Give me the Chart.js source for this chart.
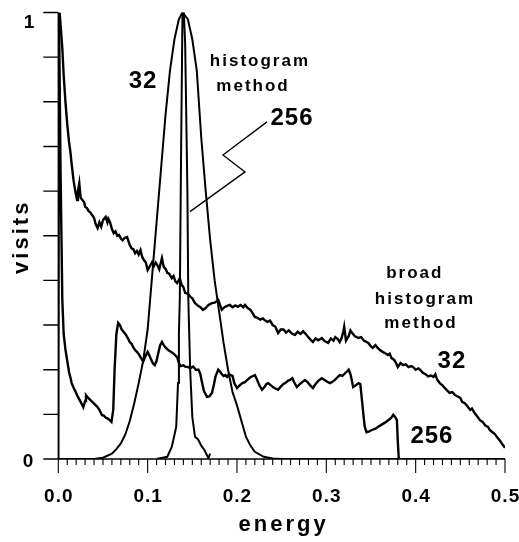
<!DOCTYPE html>
<html>
<head>
<meta charset="utf-8">
<script src="https://cdn.jsdelivr.net/npm/chart.js@4.4.0/dist/chart.umd.min.js"></script>
<style>
  html, body { margin: 0; padding: 0; background: #fff; }
  #chart { display: block; }
</style>
</head>
<body>
<canvas id="chart" width="519" height="542"></canvas>
<script>
// histogram method, 32 (wide peak)
const histo32E = [0, 0.04, 0.05, 0.06, 0.065, 0.07, 0.075, 0.08, 0.085, 0.09, 0.095, 0.1, 0.105, 0.11, 0.115, 0.12, 0.125, 0.13, 0.135, 0.139,
  0.145, 0.15, 0.155, 0.16, 0.165, 0.17, 0.175, 0.18, 0.185, 0.19, 0.195, 0.2, 0.205, 0.21, 0.215, 0.22, 0.23, 0.24, 0.25, 0.5];
const histo32V = [0, 0, 0.003, 0.012, 0.022, 0.035, 0.055, 0.085, 0.125, 0.17, 0.22, 0.29, 0.41, 0.53, 0.65, 0.77, 0.87, 0.94, 0.985, 1.0,
  0.985, 0.94, 0.87, 0.72, 0.6, 0.49, 0.4, 0.33, 0.26, 0.2, 0.15, 0.12, 0.085, 0.05, 0.03, 0.016, 0.005, 0.001, 0, 0];

// histogram method, 256 (narrow peak)
const histo256E = [0.11, 0.122, 0.127, 0.132, 0.134, 0.135, 0.136, 0.1375, 0.139, 0.1405, 0.142, 0.1445, 0.1455, 0.1476, 0.15, 0.153,
  0.156, 0.158, 0.16, 0.163, 0.166, 0.168, 0.17];
const histo256V = [0, 0.005, 0.027, 0.072, 0.17, 0.28, 0.36, 0.7, 1.0, 1.0, 0.93, 0.6, 0.36, 0.2, 0.094, 0.05,
  0.045, 0.038, 0.03, 0.022, 0.01, 0.002, 0.012];

// broad histogram method, 32
const broad32E = [0.0015, 0.003, 0.0045, 0.006, 0.008, 0.010, 0.012, 0.0134, 0.015, 0.017, 0.019, 0.021, 0.022, 0.0235, 0.025, 0.027,
  0.029, 0.030, 0.032, 0.034, 0.036, 0.038, 0.040, 0.042, 0.044, 0.046, 0.048, 0.050, 0.053, 0.055, 0.056, 0.058, 0.060, 0.062,
  0.064, 0.066, 0.068, 0.070, 0.072, 0.074, 0.077, 0.079, 0.080, 0.082, 0.084, 0.086, 0.088, 0.090, 0.092, 0.094, 0.096, 0.098,
  0.100, 0.102, 0.105, 0.107, 0.109, 0.111, 0.113, 0.116, 0.118, 0.120, 0.122, 0.124, 0.127, 0.129, 0.131, 0.133, 0.136, 0.138,
  0.140, 0.142, 0.145, 0.148, 0.150, 0.153, 0.156, 0.159, 0.162, 0.165, 0.168, 0.172, 0.175, 0.179, 0.181, 0.183, 0.186, 0.189,
  0.192, 0.195, 0.198, 0.201, 0.204, 0.207, 0.209, 0.212, 0.215, 0.218, 0.220, 0.223, 0.226, 0.229, 0.231, 0.234, 0.237, 0.240,
  0.243, 0.246, 0.249, 0.252, 0.255, 0.258, 0.262, 0.265, 0.268, 0.271, 0.274, 0.276, 0.279, 0.282, 0.285, 0.288, 0.291, 0.295,
  0.298, 0.302, 0.305, 0.308, 0.310, 0.313, 0.315, 0.317, 0.319, 0.320, 0.322, 0.325, 0.327, 0.329, 0.332, 0.336, 0.339, 0.342,
  0.345, 0.347, 0.350, 0.352, 0.355, 0.357, 0.360, 0.363, 0.366, 0.369, 0.371, 0.373, 0.376, 0.378, 0.380, 0.383, 0.386, 0.389,
  0.392, 0.395, 0.397, 0.400, 0.403, 0.405, 0.408, 0.411, 0.414, 0.417, 0.420, 0.422, 0.424, 0.427, 0.430, 0.433, 0.436, 0.438,
  0.441, 0.444, 0.447, 0.450, 0.452, 0.455, 0.458, 0.461, 0.463, 0.466, 0.469, 0.472, 0.475, 0.478, 0.481, 0.483, 0.486, 0.489,
  0.491, 0.494, 0.497, 0.500];
const broad32V = [1.0, 0.96, 0.92, 0.86, 0.80, 0.75, 0.71, 0.69, 0.66, 0.625, 0.60, 0.58, 0.60, 0.618, 0.585, 0.58,
  0.575, 0.565, 0.562, 0.555, 0.552, 0.546, 0.54, 0.525, 0.517, 0.53, 0.52, 0.535, 0.542, 0.53, 0.538, 0.53, 0.515, 0.506,
  0.51, 0.50, 0.502, 0.494, 0.49, 0.495, 0.497, 0.485, 0.479, 0.472, 0.47, 0.461, 0.466, 0.458, 0.468, 0.452, 0.445, 0.44,
  0.423, 0.43, 0.441, 0.432, 0.44, 0.434, 0.425, 0.45, 0.43, 0.426, 0.417, 0.415, 0.405, 0.41, 0.398, 0.394, 0.405, 0.39,
  0.385, 0.372, 0.37, 0.363, 0.36, 0.349, 0.344, 0.34, 0.334, 0.338, 0.345, 0.349, 0.35, 0.356, 0.345, 0.334, 0.34, 0.343,
  0.345, 0.34, 0.344, 0.341, 0.345, 0.34, 0.345, 0.338, 0.334, 0.325, 0.318, 0.316, 0.312, 0.315, 0.311, 0.307, 0.31, 0.3,
  0.296, 0.282, 0.29, 0.29, 0.283, 0.288, 0.28, 0.278, 0.285, 0.28, 0.286, 0.282, 0.275, 0.268, 0.262, 0.27, 0.266, 0.271,
  0.264, 0.26, 0.27, 0.265, 0.273, 0.268, 0.262, 0.27, 0.285, 0.296, 0.265, 0.275, 0.288, 0.282, 0.275, 0.271, 0.273, 0.265,
  0.262, 0.26, 0.252, 0.249, 0.255, 0.25, 0.244, 0.24, 0.237, 0.233, 0.236, 0.226, 0.222, 0.215, 0.206, 0.215, 0.21, 0.212,
  0.206, 0.208, 0.206, 0.2, 0.203, 0.2, 0.193, 0.19, 0.185, 0.187, 0.184, 0.19, 0.178, 0.17, 0.165, 0.158, 0.152, 0.148,
  0.15, 0.143, 0.14, 0.137, 0.128, 0.125, 0.118, 0.11, 0.113, 0.103, 0.095, 0.087, 0.083, 0.075, 0.072, 0.065, 0.06, 0.055,
  0.049, 0.042, 0.033, 0.025];

// broad histogram method, 256
const broad256E = [0, 0.0008, 0.0025, 0.0045, 0.006, 0.008, 0.010, 0.012, 0.0134, 0.015, 0.017, 0.019, 0.022, 0.025, 0.028, 0.030,
  0.031, 0.033, 0.036, 0.038, 0.040, 0.042, 0.044, 0.046, 0.049, 0.051, 0.053, 0.055, 0.057, 0.0595, 0.0615, 0.063, 0.065, 0.067,
  0.069, 0.071, 0.073, 0.075, 0.078, 0.080, 0.082, 0.084, 0.086, 0.088, 0.090, 0.092, 0.095, 0.097, 0.100, 0.102, 0.104, 0.106,
  0.108, 0.110, 0.112, 0.114, 0.116, 0.118, 0.120, 0.123, 0.126, 0.129, 0.131, 0.133, 0.135, 0.137, 0.140, 0.142, 0.145, 0.148,
  0.151, 0.154, 0.157, 0.159, 0.161, 0.163, 0.1665, 0.169, 0.172, 0.174, 0.176, 0.179, 0.181, 0.183, 0.185, 0.187, 0.189, 0.191,
  0.193, 0.195, 0.197, 0.200, 0.203, 0.206, 0.209, 0.212, 0.215, 0.218, 0.220, 0.222, 0.225, 0.228, 0.231, 0.233, 0.235, 0.238,
  0.241, 0.243, 0.246, 0.249, 0.252, 0.254, 0.257, 0.260, 0.262, 0.264, 0.267, 0.270, 0.273, 0.276, 0.279, 0.282, 0.285, 0.288,
  0.291, 0.293, 0.295, 0.298, 0.301, 0.304, 0.306, 0.309, 0.312, 0.315, 0.318, 0.321, 0.323, 0.325, 0.327, 0.329, 0.330, 0.333,
  0.336, 0.338, 0.340, 0.342, 0.343, 0.345, 0.348, 0.351, 0.355, 0.358, 0.362, 0.366, 0.370, 0.373, 0.375, 0.377, 0.379, 0.380,
  0.381, 0.382];
const broad256V = [0, 1.0, 0.65, 0.356, 0.28, 0.245, 0.22, 0.195, 0.184, 0.17, 0.16, 0.152, 0.139, 0.128, 0.116, 0.13,
  0.143, 0.138, 0.132, 0.128, 0.124, 0.12, 0.116, 0.11, 0.098, 0.097, 0.093, 0.091, 0.088, 0.083, 0.11, 0.2, 0.28, 0.305,
  0.3, 0.29, 0.285, 0.28, 0.27, 0.262, 0.258, 0.25, 0.244, 0.24, 0.235, 0.228, 0.218, 0.228, 0.24, 0.232, 0.222, 0.214,
  0.21, 0.22, 0.238, 0.255, 0.262, 0.255, 0.25, 0.244, 0.24, 0.236, 0.232, 0.228, 0.215, 0.208, 0.21, 0.207, 0.206, 0.204,
  0.207, 0.2, 0.2, 0.19, 0.17, 0.152, 0.139, 0.14, 0.148, 0.165, 0.185, 0.2, 0.196, 0.19, 0.186, 0.188, 0.184, 0.19,
  0.188, 0.186, 0.17, 0.159, 0.165, 0.17, 0.172, 0.178, 0.183, 0.186, 0.188, 0.18, 0.165, 0.155, 0.162, 0.168, 0.17, 0.165,
  0.16, 0.158, 0.155, 0.162, 0.168, 0.17, 0.175, 0.178, 0.181, 0.172, 0.161, 0.167, 0.172, 0.177, 0.172, 0.165, 0.159, 0.168,
  0.175, 0.178, 0.181, 0.177, 0.173, 0.17, 0.172, 0.176, 0.182, 0.188, 0.186, 0.192, 0.196, 0.2, 0.19, 0.172, 0.161, 0.165,
  0.17, 0.168, 0.13, 0.09, 0.072, 0.06, 0.062, 0.065, 0.068, 0.072, 0.077, 0.082, 0.088, 0.093, 0.099, 0.094, 0.087, 0.04,
  0.004, 0];

// pointer line from the "256" label to the narrow peak
const pointerE = [0.2336, 0.1843, 0.209, 0.1474];
const pointerV = [0.755, 0.681, 0.643, 0.554];

// tick labels
const xTickLabels = ['0.0', '0.1', '0.2', '0.3', '0.4', '0.5'];
const yTickLabels = ['0', '1'];

// text notes on the plot (energy, visits at baseline)
const noteTexts = ['32', 'histogram', 'method', '256', 'broad', 'histogram', 'method', '32', '256'];
const noteE = [0.0948, 0.2257, 0.218, 0.2616, 0.399, 0.4104, 0.406, 0.4406, 0.4182];
const noteV = [0.831, 0.880, 0.824, 0.748, 0.405, 0.347, 0.293, 0.204, 0.036];

function pts(xs, ys) {
  return xs.map((x, i) => ({ x: x, y: ys[i] }));
}

const FONT = '"Liberation Sans", Arial, Helvetica, sans-serif';

const axesPlugin = {
  id: 'axesAndNotes',
  afterDraw(chart) {
    const ctx = chart.ctx;
    const xs = chart.scales.x;
    const ys = chart.scales.y;
    const left = xs.getPixelForValue(0);
    const right = xs.getPixelForValue(0.5);
    const bottom = ys.getPixelForValue(0);
    const top = ys.getPixelForValue(1);

    ctx.save();
    ctx.strokeStyle = '#000';
    ctx.lineWidth = 1.4;
    ctx.beginPath();
    // x axis line
    ctx.moveTo(left, bottom);
    ctx.lineTo(right, bottom);
    // y axis line
    ctx.moveTo(left, bottom);
    ctx.lineTo(left, top);
    // y ticks every 0.1, outward
    for (let i = 0; i <= 10; i++) {
      const y = ys.getPixelForValue(i / 10);
      ctx.moveTo(left - 15, y);
      ctx.lineTo(left, y);
    }
    ctx.stroke();

    // x ticks: minor every 0.01, major every 0.1
    ctx.lineWidth = 1.1;
    ctx.beginPath();
    for (let i = 0; i <= 50; i++) {
      const x = xs.getPixelForValue(i / 100);
      const len = (i % 10 === 0) ? 14 : 6;
      ctx.moveTo(x, bottom);
      ctx.lineTo(x, bottom + len);
    }
    ctx.stroke();

    ctx.fillStyle = '#000';
    ctx.textAlign = 'center';
    ctx.textBaseline = 'alphabetic';

    // tick labels
    ctx.font = 'bold 19px ' + FONT;
    ctx.letterSpacing = '1px';
    xTickLabels.forEach((t, i) => {
      ctx.fillText(t, xs.getPixelForValue(i / 10) + 0.5, 502);
    });
    ctx.fillText(yTickLabels[0], 28.5, 467);
    ctx.fillText(yTickLabels[1], 29.5, 28);

    // axis titles
    ctx.font = 'bold 22px ' + FONT;
    ctx.letterSpacing = '3px';
    ctx.fillText('energy', (left + right) / 2 + 2, 531);
    ctx.save();
    ctx.translate(28, (top + bottom) / 2 + 1);
    ctx.rotate(-Math.PI / 2);
    ctx.fillText('visits', 0, 0);
    ctx.restore();

    // notes
    noteTexts.forEach((t, i) => {
      const isNum = /^\d+$/.test(t);
      ctx.font = isNum ? 'bold 24px ' + FONT : 'bold 17px ' + FONT;
      ctx.letterSpacing = isNum ? '1px' : '2px';
      ctx.fillText(t, xs.getPixelForValue(noteE[i]), ys.getPixelForValue(noteV[i]));
    });
    ctx.restore();
  }
};

const lineStyle = {
  borderColor: '#000',
  backgroundColor: '#000',
  borderWidth: 2.4,
  pointRadius: 0,
  tension: 0,
  fill: false
};

new Chart(document.getElementById('chart'), {
  type: 'line',
  data: {
    datasets: [
      Object.assign({ label: 'histogram 32', data: pts(histo32E, histo32V) }, lineStyle, { borderWidth: 2 }),
      Object.assign({ label: 'histogram 256', data: pts(histo256E, histo256V) }, lineStyle, { borderWidth: 2 }),
      Object.assign({ label: 'broad 32', data: pts(broad32E, broad32V) }, lineStyle),
      Object.assign({ label: 'broad 256', data: pts(broad256E, broad256V) }, lineStyle),
      Object.assign({ label: 'pointer', data: pts(pointerE, pointerV) }, lineStyle, { borderWidth: 1.3 })
    ]
  },
  options: {
    responsive: false,
    animation: false,
    layout: { padding: { left: 58.3, right: 14, top: 12.5, bottom: 83 } },
    plugins: {
      legend: { display: false },
      tooltip: { enabled: false }
    },
    scales: {
      x: { type: 'linear', min: 0, max: 0.5, display: false },
      y: { type: 'linear', min: 0, max: 1, display: false }
    }
  },
  plugins: [axesPlugin]
});
</script>
</body>
</html>
